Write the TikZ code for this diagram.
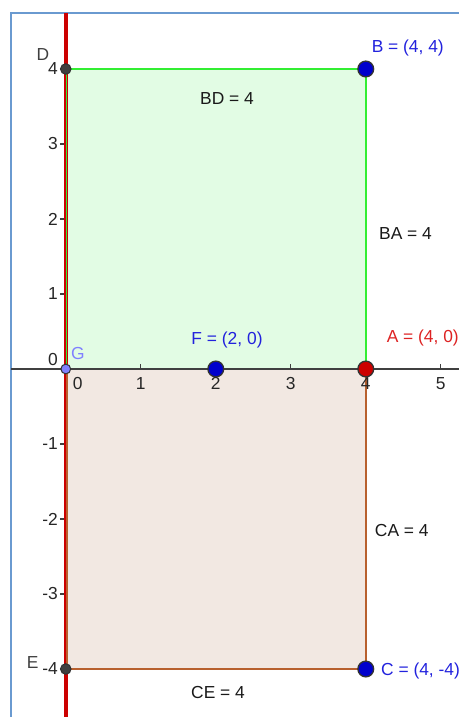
\documentclass[tikz,border=0pt]{standalone}
\usepackage{fontspec}
\setmainfont{Liberation Sans}
\usepackage{xcolor}
\usepackage{tikz}
\usetikzlibrary{positioning,calc}

\definecolor{ggblue}{HTML}{0000CC}
\definecolor{ggred}{HTML}{CC0000}
\definecolor{gglabelblue}{HTML}{2222DD}
\definecolor{gglabelred}{HTML}{DD2222}
\definecolor{ggviolet}{HTML}{8080FF}
\definecolor{ggframe}{HTML}{6A9AD0}
\definecolor{sqgreen}{HTML}{33EE33}
\definecolor{sqgreenfill}{HTML}{E2FCE4}
\definecolor{sqbrown}{HTML}{B8602E}
\definecolor{sqbrownfill}{HTML}{F2E8E2}

\begin{document}
\begin{tikzpicture}[
    x=1cm, y=1cm,
    font=\fontsize{6.6}{8}\selectfont,
    bigpt/.style={circle, draw=black!80, line width=0.5pt, inner sep=0pt, minimum size=0.21cm},
    smallpt/.style={circle, draw=black!80, fill=black!75, line width=0.4pt, inner sep=0pt, minimum size=0.14cm},
    ticklbl/.style={text=black!85, inner sep=0pt},
    seglbl/.style={text=black!90, inner sep=0pt},
    axisline/.style={draw=black!75, line width=0.6pt},
    upsq/.style={draw=sqgreen, fill=sqgreenfill, line width=0.6pt},
    lowsq/.style={draw=sqbrown, fill=sqbrownfill, line width=0.8pt}
]
    \useasboundingbox (-0.877,-4.64) rectangle (5.249,4.92);

    % points
    \coordinate (G) at (0,0);
    \coordinate (F) at (2,0);
    \coordinate (A) at (4,0);
    \coordinate (B) at (4,4);
    \coordinate (D) at (0,4);
    \coordinate (C) at (4,-4);
    \coordinate (E) at (0,-4);
    \coordinate (frameBL) at (-0.731,-4.64);
    \coordinate (frameTL) at (-0.731,4.747);
    \coordinate (frameTR) at (5.249,4.747);
    \coordinate (axL) at (-0.731,0);
    \coordinate (axR) at (5.249,0);
    \coordinate (lineTop) at (0,4.747);
    \coordinate (lineBot) at (0,-4.64);

    % frame
    \draw [ggframe, line width=0.7pt] (frameBL) -- (frameTL) -- (frameTR);

    % squares
    \draw [upsq] (G) -- (A) -- (B) -- (D) -- cycle;
    \draw [lowsq] (E) -- (C) -- (A) -- (G) -- cycle;

    % axes
    \draw [axisline] (axL) -- (axR);
    \foreach \k in {1,2,3,4,5} {
        \draw [axisline, line width=0.4pt] (\k,0) -- (\k,0.07);
        \node [ticklbl] (xt\k) at (\k,-0.19) {\k};
    }
    \node [ticklbl] (xt0) at (0.16,-0.19) {0};
    \foreach \k in {-4,-3,-2,-1,1,2,3,4} {
        \draw [axisline, line width=0.4pt] (-0.08,\k) -- (0,\k);
        \node [ticklbl, anchor=east] (yt\k) at (-0.1,\k) {\k};
    }
    \node [ticklbl, anchor=east] (yt0) at (-0.1,0.12) {0};

    % line DE
    \draw [ggred, line width=1.7pt] (lineTop) -- (lineBot);
    \draw [sqgreen, line width=0.6pt] ([xshift=0.3pt]G) -- ([xshift=0.3pt]D);
    \draw [sqbrown, line width=0.8pt] ([xshift=0.3pt]G) -- ([xshift=0.3pt]E);

    % segment lengths
    \node [seglbl] (lblBD) at (2.15,3.61) {BD = 4};
    \node [seglbl] (lblBA) at (4.53,1.81) {BA = 4};
    \node [seglbl] (lblCA) at (4.48,-2.16) {CA = 4};
    \node [seglbl] (lblCE) at (2.03,-4.32) {CE = 4};

    % point markers
    \node [smallpt] (ptD) at (D) {};
    \node [smallpt] (ptE) at (E) {};
    \node [smallpt, fill=ggviolet, minimum size=0.13cm] (ptG) at (G) {};
    \node [bigpt, fill=ggblue] (ptF) at (F) {};
    \node [bigpt, fill=ggblue] (ptB) at (B) {};
    \node [bigpt, fill=ggblue] (ptC) at (C) {};
    \node [bigpt, fill=ggred] (ptA) at (A) {};

    % point labels
    \node [text=black!75, inner sep=0pt] (lblD) at (-0.306,4.187) {D};
    \node [text=black!75, inner sep=0pt] (lblE) at (-0.44,-3.92) {E};
    \node [text=ggviolet, inner sep=0pt] (lblG) at (0.16,0.21) {G};
    \node [text=gglabelblue, inner sep=0pt] (lblF) at (2.15,0.39) {F = (2, 0)};
    \node [text=gglabelred, inner sep=0pt] (lblA) at (4.76,0.41) {A = (4, 0)};
    \node [text=gglabelblue, inner sep=0pt] (lblB) at (4.56,4.28) {B = (4, 4)};
    \node [text=gglabelblue, inner sep=0pt] (lblC) at (4.73,-4.03) {C = (4, -4)};
\end{tikzpicture}
\end{document}
